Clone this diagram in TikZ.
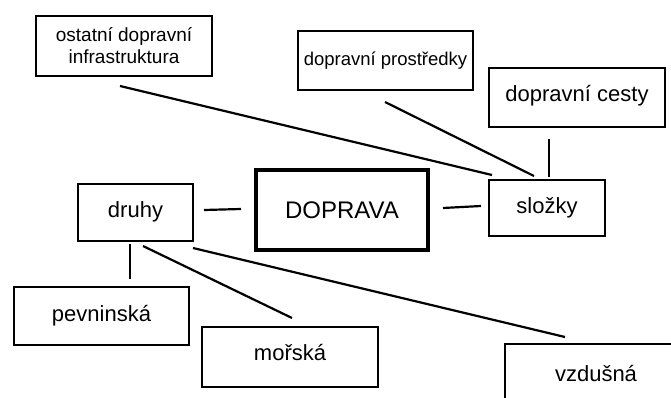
\documentclass[tikz,border=0pt]{standalone}
\usepackage{fontspec}
\setmainfont{Liberation Sans}
\begin{document}
\begin{tikzpicture}[x=1pt,y=-1pt,
  box/.style={draw, line width=1.4pt, inner sep=0pt, outer sep=0pt, align=center},
  bigbox/.style={draw, line width=4.6pt, inner sep=0pt, outer sep=0pt},
  conn/.style={line width=2.2pt},
  f22/.style={font=\fontsize{22}{26}\selectfont},
  f19/.style={font=\fontsize{19}{22}\selectfont}]
\useasboundingbox (0,0) rectangle (671,398);
\clip (0,0) rectangle (671,398);
\fill[white] (0,0) rectangle (671,398);
% boxes
\node[box, f19, minimum width=176pt, minimum height=60pt] (ost) at (124,46) {ostatní dopravní\\infrastruktura};
\node[box, font=\fontsize{18.5}{22}\selectfont, minimum width=175pt, text height=35pt, text depth=24pt] (pros) at (385.5,60.5) {dopravní prostředky};
\node[box, f22, minimum width=176pt, text height=34pt, text depth=25pt] (ces) at (577,97.5) {dopravní cesty};
\node[box, f22, minimum width=116pt, text height=33pt, text depth=23pt] (slo) at (547,208) {složky};
\node[bigbox, font=\fontsize{24}{28}\selectfont, minimum width=172pt, text height=48pt, text depth=32pt] (dop) at (342,210) {DOPRAVA};
\node[box, f22, minimum width=115pt, text height=33pt, text depth=24pt] (dru) at (135.5,212.5) {druhy};
\node[box, f22, minimum width=175pt, text height=34pt, text depth=24pt] (pev) at (101.5,316) {pevninská};
\node[box, f22, minimum width=176pt, text height=33pt, text depth=27pt] (mor) at (290,357) {mořská};
\node[box, f22, minimum width=182pt, text height=37pt, text depth=21pt] (vzd) at (596,373) {vzdušná};
% connector end points
\coordinate (ostA) at (120,86);  \coordinate (ostB) at (492,175);
\coordinate (prosA) at (385,102); \coordinate (prosB) at (534,176);
\coordinate (cesA) at (549,139); \coordinate (cesB) at (549,177);
\coordinate (druA) at (204,210); \coordinate (dopL) at (241,209);
\coordinate (dopR) at (443,208); \coordinate (sloL) at (481,206);
\coordinate (druP) at (130,244); \coordinate (pevA) at (130,279);
\coordinate (druM) at (143,246); \coordinate (morA) at (292,318);
\coordinate (druV) at (193,248); \coordinate (vzdA) at (565,337);
% connectors
\draw[conn] (ostA) -- (ostB);
\draw[conn] (prosA) -- (prosB);
\draw[conn] (cesA) -- (cesB);
\draw[conn] (druA) -- (dopL);
\draw[conn] (dopR) -- (sloL);
\draw[conn] (druP) -- (pevA);
\draw[conn] (druM) -- (morA);
\draw[conn] (druV) -- (vzdA);
\end{tikzpicture}
\end{document}
